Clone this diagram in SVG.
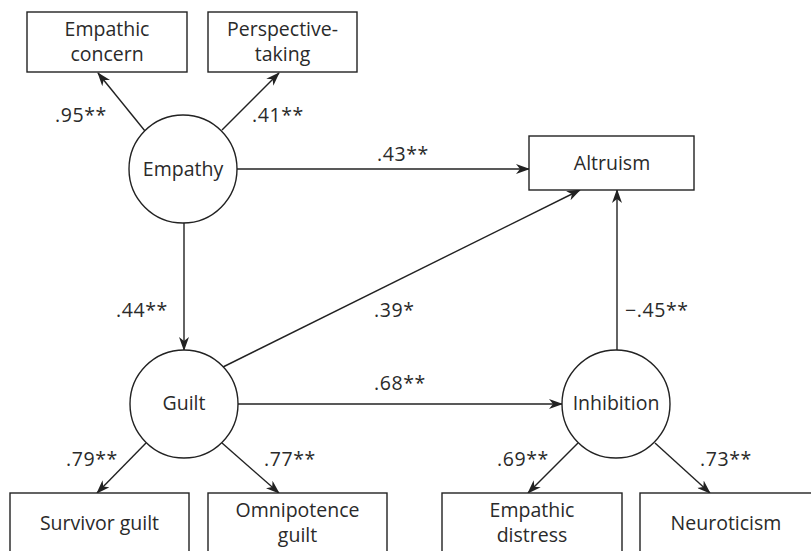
<svg xmlns="http://www.w3.org/2000/svg" width="811" height="551" viewBox="0 0 811 551">
  <style>
    .box { fill: #fff; stroke: #222; stroke-width: 1.4; }
    .lat { fill: #fff; stroke: #222; stroke-width: 1.4; }
    .edge { fill: none; stroke: #222; stroke-width: 1.4; marker-end: url(#arrow); }
    text { font-family: "Open Sans", "Liberation Sans", sans-serif; font-size: 19.5px; fill: #2a2a2a; }
    .c { text-anchor: middle; }
    .lbl { font-size: 19px; letter-spacing: 0.6px; }
  </style>
  <defs>
    <marker id="arrow" viewBox="0 0 14 10" refX="13" refY="5" markerWidth="14" markerHeight="10" markerUnits="userSpaceOnUse" orient="auto">
      <path d="M0,0 L14,5 L0,10 L4,5 Z" fill="#222"/>
    </marker>
  </defs>

  <rect width="811" height="551" fill="#fff"/>

  <!-- connectors -->
  <g id="connectors">
    <line class="edge" x1="145" y1="131" x2="98" y2="73"/>
    <line class="edge" x1="222" y1="130" x2="279" y2="73"/>
    <line class="edge" x1="237" y1="169" x2="529" y2="169"/>
    <line class="edge" x1="184" y1="223" x2="184" y2="350"/>
    <line class="edge" x1="223" y1="367" x2="580" y2="190"/>
    <line class="edge" x1="238" y1="404" x2="562" y2="404"/>
    <line class="edge" x1="617" y1="350" x2="617" y2="190"/>
    <line class="edge" x1="146" y1="443" x2="97" y2="493"/>
    <line class="edge" x1="222" y1="443" x2="279" y2="493"/>
    <line class="edge" x1="578" y1="443" x2="528" y2="493"/>
    <line class="edge" x1="655" y1="443" x2="710" y2="493"/>
  </g>

  <!-- path coefficients -->
  <g id="coefficients" class="lbl">
    <text x="55" y="122">.95**</text>
    <text x="252" y="122">.41**</text>
    <text x="377" y="161">.43**</text>
    <text x="116" y="317">.44**</text>
    <text x="374" y="317">.39*</text>
    <text x="625" y="317">−.45**</text>
    <text x="374" y="390">.68**</text>
    <text x="66" y="466">.79**</text>
    <text x="264" y="466">.77**</text>
    <text x="497" y="466">.69**</text>
    <text x="700" y="466">.73**</text>
  </g>

  <g id="empathic-concern">
    <rect class="box" x="27" y="12" width="160" height="60"/>
    <text class="c" x="107" y="36">Empathic<tspan x="107" dy="25">concern</tspan></text>
  </g>
  <g id="perspective-taking">
    <rect class="box" x="208" y="12" width="149" height="60"/>
    <text class="c" x="282.5" y="36">Perspective-<tspan x="282.5" dy="25">taking</tspan></text>
  </g>
  <g id="empathy">
    <circle class="lat" cx="183" cy="169" r="54"/>
    <text class="c" x="183" y="176">Empathy</text>
  </g>
  <g id="altruism">
    <rect class="box" x="529" y="136" width="165" height="54"/>
    <text class="c" x="612" y="170">Altruism</text>
  </g>
  <g id="guilt">
    <circle class="lat" cx="184" cy="404" r="54"/>
    <text class="c" x="184" y="410">Guilt</text>
  </g>
  <g id="inhibition">
    <circle class="lat" cx="616" cy="404" r="54"/>
    <text class="c" x="616" y="410">Inhibition</text>
  </g>
  <g id="survivor-guilt">
    <rect class="box" x="10" y="493" width="179" height="70"/>
    <text class="c" x="99.5" y="530">Survivor guilt</text>
  </g>
  <g id="omnipotence-guilt">
    <rect class="box" x="208" y="493" width="179" height="70"/>
    <text class="c" x="297.5" y="517">Omnipotence<tspan x="297.5" dy="25">guilt</tspan></text>
  </g>
  <g id="empathic-distress">
    <rect class="box" x="442" y="493" width="180" height="70"/>
    <text class="c" x="532" y="517">Empathic<tspan x="532" dy="25">distress</tspan></text>
  </g>
  <g id="neuroticism">
    <rect class="box" x="640" y="493" width="180" height="70"/>
    <text class="c" x="726" y="530">Neuroticism</text>
  </g>
</svg>
